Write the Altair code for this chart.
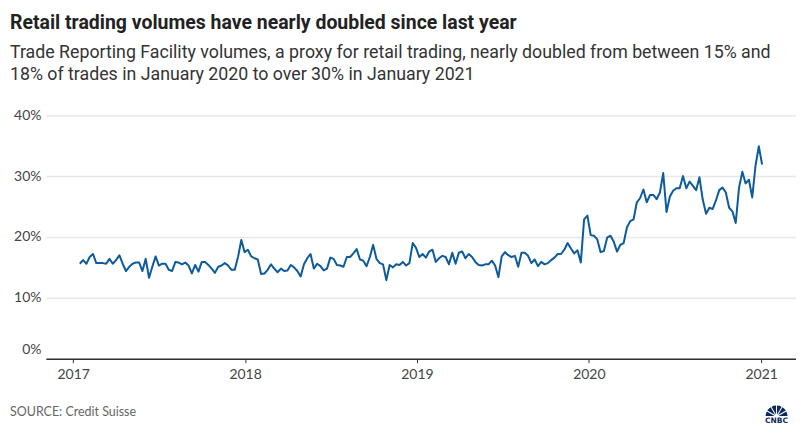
import altair as alt
import pandas as pd

TITLE = "Retail trading volumes have nearly doubled since last year"
SUBTITLE = [
    "Trade Reporting Facility volumes, a proxy for retail trading, nearly doubled from between 15% and",
    "18% of trades in January 2020 to over 30% in January 2021",
]
SOURCE = "SOURCE: Credit Suisse"
LOGO = "CNBC"

first_week = "2017-01-15"
y_ticks = [0, 10, 20, 30, 40]
x_years = [2017, 2018, 2019, 2020, 2021]
logo_feathers = [1, 1, 1, 1, 1, 1]

# weekly TRF share of trades (%)
share_2017 = [15.6, 16.2, 15.6, 16.7, 17.2, 15.7, 15.7, 15.7, 15.6, 16.4,
              15.6, 16.2, 17.0, 15.6, 14.4, 15.1, 15.6, 15.8, 15.8, 14.4,
              16.4, 13.3, 15.1, 16.8, 15.3, 15.6, 15.6, 14.6, 14.4, 15.9,
              15.8, 15.5, 15.8, 15.3, 14.0, 15.4, 14.3, 15.9, 15.9, 15.4,
              14.8, 14.1, 15.1, 15.3, 15.7, 15.3, 14.6, 14.6, 16.7, 19.5]
share_2018_2019 = [17.5, 17.9, 16.8, 16.5, 16.3, 13.9, 14.0, 14.6, 15.5, 14.8,
                   14.2, 14.8, 14.4, 14.5, 15.4, 15.0, 14.4, 13.5, 15.5, 16.5,
                   17.2, 14.8, 15.6, 15.2, 14.5, 14.8, 16.6, 16.4, 15.4, 15.3,
                   15.1, 16.7, 16.7, 17.3, 18.0, 16.3, 16.1, 15.2, 16.7, 18.7,
                   16.4, 15.7, 15.5, 12.9, 15.4, 15.0, 15.5, 15.4, 15.9, 15.3,
                   15.7, 19.0, 18.2, 16.7, 17.2, 16.6, 17.6, 17.9, 15.9, 16.5,
                   16.9, 16.7, 15.5, 17.4, 15.6, 17.4, 17.6, 16.5, 17.2, 16.7,
                   15.9, 15.4, 15.3, 15.5, 15.5, 16.1, 15.3]
share_2019_2021 = [13.4, 16.8, 17.5, 17.0, 16.7, 16.9, 15.1, 17.4, 17.4, 16.9,
                   15.7, 16.3, 15.2, 15.9, 15.5, 15.7, 16.2, 16.6, 17.2, 17.2,
                   17.9, 19.0, 18.1, 17.3, 17.8, 15.8, 22.9, 23.5, 20.3, 20.2,
                   19.6, 17.5, 17.7, 19.9, 20.2, 19.2, 17.6, 18.7, 19.0, 21.6,
                   22.6, 22.9, 25.7, 26.4, 27.8, 25.7, 26.9, 26.9, 26.2, 27.3,
                   30.5, 24.1, 26.6, 27.6, 28.0, 28.0, 30.0, 28.0, 29.1, 28.4,
                   27.7, 29.8, 26.1, 23.8, 24.8, 24.6, 26.0, 27.7, 28.1, 27.3,
                   24.8, 24.2, 22.3, 28.1, 30.7, 28.8, 29.4, 26.5, 31.7, 34.9,
                   31.9]

share = share_2017 + share_2018_2019 + share_2019_2021
weeks = pd.date_range(first_week, periods=len(share), freq="7D")
df = pd.DataFrame({"week": weeks, "share": share})

LABEL_FONT = "Lato"
NAVY = "#0b2a5b"

line = alt.Chart(df).mark_line(color="#0d5a9c", strokeWidth=2, strokeJoin="round").encode(
    x=alt.X(
        "week:T",
        scale=alt.Scale(domain=[alt.DateTime(year=2016, month=11, date=4),
                                alt.DateTime(year=2021, month=3, date=16)]),
        axis=alt.Axis(
            title=None,
            values=[alt.DateTime(year=y) for y in x_years],
            format="%Y",
            grid=False,
            domainColor="#333333",
            domainWidth=1.5,
            tickColor="#333333",
            tickSize=4,
            labelPadding=5,
            labelFont=LABEL_FONT,
            labelFontSize=14,
            labelColor="#444444",
        ),
    ),
    y=alt.Y(
        "share:Q",
        scale=alt.Scale(domain=[0, 40]),
        axis=alt.Axis(
            title=None,
            values=y_ticks,
            labelExpr="datum.value + '%'",
            domain=False,
            ticks=False,
            labelPadding=5,
            labelFont=LABEL_FONT,
            labelFontSize=14,
            labelColor="#444444",
            gridColor="#e8e8e8",
            gridWidth=1.5,
            labelOffset={"condition": {"test": "datum.value === 0", "value": -9}, "value": 0},
        ),
    ),
)

source = alt.Chart(alt.Data(values=[{"label": SOURCE}])).mark_text(
    align="left", baseline="middle", fontSize=12.5, color="#666666", font=LABEL_FONT
).encode(text="label:N", x=alt.value(-36), y=alt.value(298))

logo_text = alt.Chart(alt.Data(values=[{"label": LOGO}])).mark_text(
    align="center", baseline="middle", fontSize=7.5, fontWeight="bold", color=NAVY, font="DejaVu Sans"
).encode(text="label:N", x=alt.value(732.5), y=alt.value(307))

logo_fan = alt.Chart(
    alt.Data(values=[{"w": v, "i": i} for i, v in enumerate(logo_feathers)])
).mark_arc(innerRadius=2, outerRadius=11, padAngle=0.09, color=NAVY).encode(
    theta=alt.Theta("w:Q", stack=True, scale=alt.Scale(range=[4.712, 7.854])),
    order=alt.Order("i:Q"),
    x=alt.value(732.5),
    y=alt.value(302),
)

chart = alt.layer(line, source, logo_fan, logo_text).properties(
    width=752,
    height=244,
    padding={"left": 38, "top": 107, "right": 0, "bottom": 70},
    autosize=alt.AutoSizeParams(type="none"),
    title=alt.TitleParams(
        text=TITLE,
        subtitle=SUBTITLE,
        anchor="start",
        frame="group",
        dx=-36,
        offset=24,
        font="Roboto",
        fontSize=19.5,
        fontWeight="bold",
        color="#222222",
        subtitleFont="Roboto",
        subtitleFontSize=17.8,
        subtitleColor="#333333",
        subtitlePadding=10,
        subtitleLineHeight=22,
    ),
).configure_view(stroke=None)

chart.save("out.html", embed_options={"renderer": "svg", "actions": False})
